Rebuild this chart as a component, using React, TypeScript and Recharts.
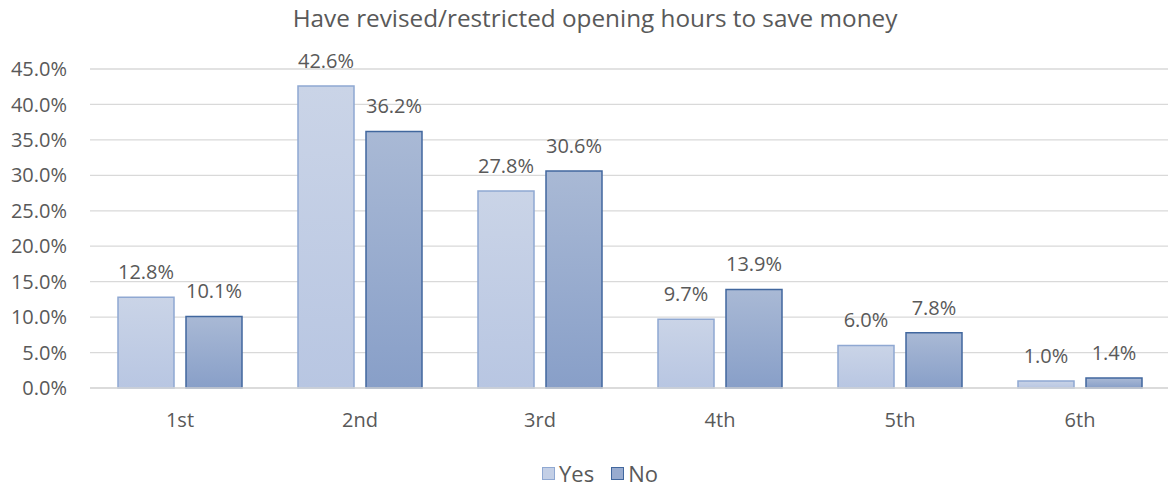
import React from 'react';
import { BarChart, Bar, XAxis, YAxis, CartesianGrid, LabelList, Legend } from 'recharts';

const categories = ['1st', '2nd', '3rd', '4th', '5th', '6th'];
const yesValues = [12.8, 42.6, 27.8, 9.7, 6.0, 1.0];
const noValues = [10.1, 36.2, 30.6, 13.9, 7.8, 1.4];
const yTicks = [0, 5, 10, 15, 20, 25, 30, 35, 40, 45];
const seriesNames = ['Yes', 'No'];
const title = 'Have revised/restricted opening hours to save money';

const data = categories.map((c, i) => ({ name: c, yes: yesValues[i], no: noValues[i] }));

const FONT = '"Open Sans", sans-serif';
const GRAY = '#595959';

const legendStyles: Record<string, { fill: string; stroke: string }> = {
  Yes: { fill: '#c3cfe6', stroke: '#8fa8d2' },
  No: { fill: '#98abcf', stroke: '#41679e' },
};

const renderLegend = () => (
  <div style={{ display: 'flex', justifyContent: 'center', alignItems: 'center', fontFamily: FONT, fontSize: 22, color: GRAY, paddingTop: 10, paddingLeft: 30 }}>
    {seriesNames.map((n, i) => (
      <div key={n} style={{ display: 'flex', alignItems: 'center', marginLeft: i ? 17 : 0 }}>
        <div style={{ width: 11, height: 11, background: legendStyles[n].fill, border: `1.5px solid ${legendStyles[n].stroke}`, marginRight: 4 }} />
        <span>{n}</span>
      </div>
    ))}
  </div>
);

const fmt = (v: number) => `${v.toFixed(1)}%`;

export default function App() {
  return (
    <div style={{ position: 'absolute', left: 0, top: 0, width: 1168, height: 486, background: '#fff' }}>
      <div style={{ position: 'absolute', left: 0, top: 1, width: 1190, textAlign: 'center', fontFamily: FONT, fontSize: 24.3, color: GRAY }}>
        {title}
      </div>
      <BarChart
        width={1168}
        height={486}
        data={data}
        margin={{ top: 69, right: -2, bottom: 0, left: 0 }}
        barCategoryGap={28}
        barGap={12}
      >
        <defs>
          <linearGradient id="gYes" x1="0" y1="0" x2="0" y2="1">
            <stop offset="0%" stopColor="#cad4e7" />
            <stop offset="100%" stopColor="#b8c6e2" />
          </linearGradient>
          <linearGradient id="gNo" x1="0" y1="0" x2="0" y2="1">
            <stop offset="0%" stopColor="#a9b9d5" />
            <stop offset="100%" stopColor="#889fc8" />
          </linearGradient>
        </defs>
        <CartesianGrid vertical={false} stroke="#d9d9d9" strokeWidth={1.3} />
        <XAxis
          dataKey="name"
          axisLine={{ stroke: '#d9d9d9', strokeWidth: 1.3 }}
          tickLine={false}
          tickSize={0}
          tickMargin={25}
          height={60}
          tick={{ fill: GRAY, fontFamily: FONT, fontSize: 20 }}
        />
        <YAxis
          domain={[0, 45]}
          ticks={yTicks}
          interval={0}
          tickFormatter={fmt}
          axisLine={false}
          tickLine={false}
          tickSize={0}
          tickMargin={23}
          width={90}
          tick={{ fill: GRAY, fontFamily: FONT, fontSize: 20 }}
        />
        <Legend verticalAlign="bottom" height={38} content={renderLegend} />
        <Bar dataKey="yes" name="Yes" fill="url(#gYes)" stroke="#8fa8d2" strokeWidth={1.5} isAnimationActive={false}>
          <LabelList dataKey="yes" position="top" offset={18} formatter={fmt} style={{ fill: GRAY, fontFamily: FONT, fontSize: 20 }} />
        </Bar>
        <Bar dataKey="no" name="No" fill="url(#gNo)" stroke="#41679e" strokeWidth={1.5} isAnimationActive={false}>
          <LabelList dataKey="no" position="top" offset={18} formatter={fmt} style={{ fill: GRAY, fontFamily: FONT, fontSize: 20 }} />
        </Bar>
      </BarChart>
    </div>
  );
}
